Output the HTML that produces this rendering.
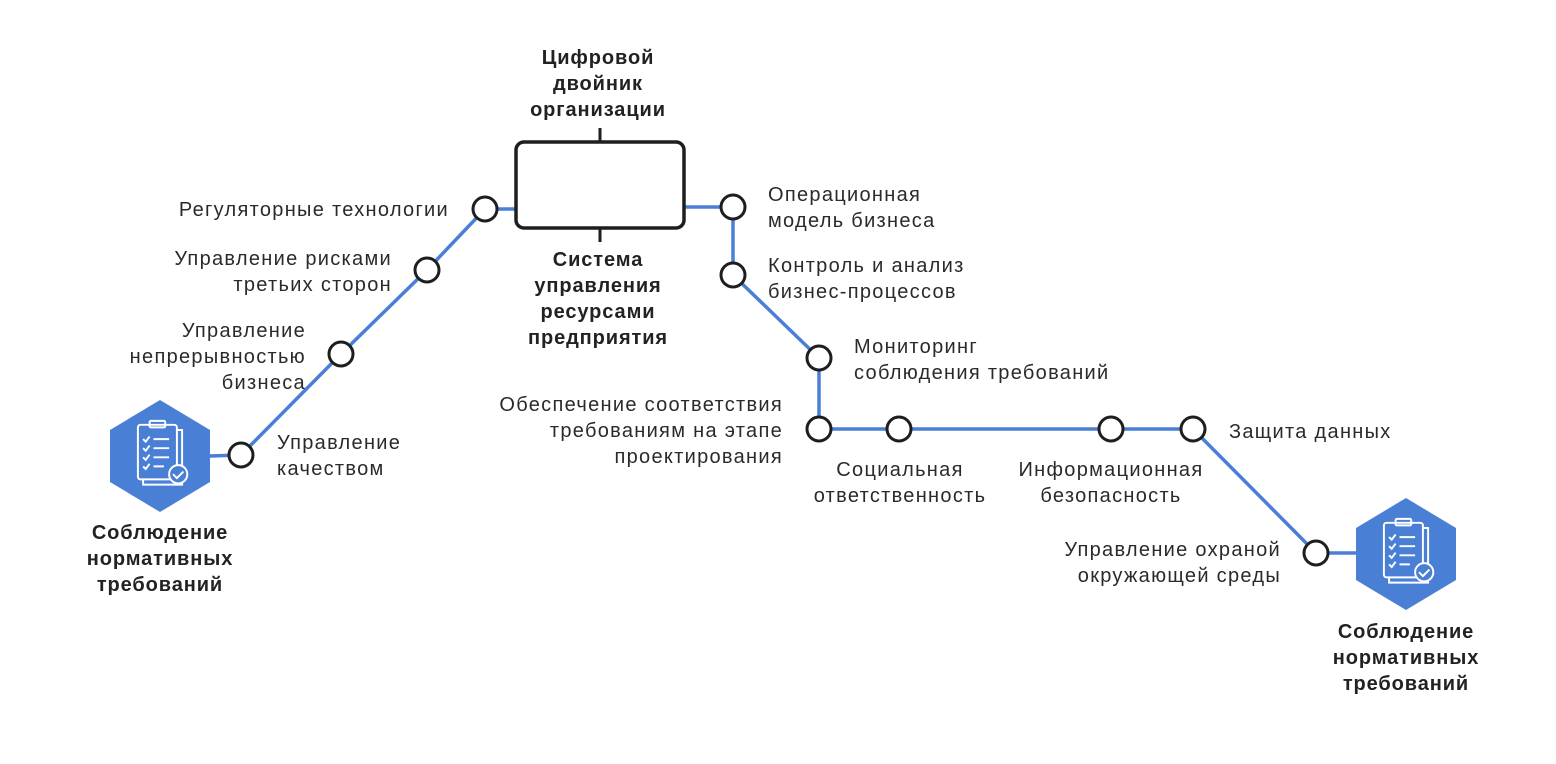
<!DOCTYPE html>
<html><head><meta charset="utf-8"><style>
html,body{margin:0;padding:0;background:#fff;}
svg{display:block}
text{font-family:"Liberation Sans",sans-serif;font-size:20px;letter-spacing:1.3px;fill:#2a2a2a}
.b{font-weight:bold;fill:#222;letter-spacing:0.9px}
</style></head><body>
<svg width="1556" height="764" viewBox="0 0 1556 764" xmlns="http://www.w3.org/2000/svg">
<defs>
<g id="hex">
<polygon points="0,-56 50,-26 50,26 0,56 -50,26 -50,-26" fill="#4a7fd6"/>
<g fill="none" stroke="#fff" stroke-width="1.5" transform="scale(1.3)">
<rect x="-17" y="-24" width="30" height="42" rx="2"/>
<path d="M13,-20 h4 v42 h-30 v-4"/>
<rect x="-8" y="-27" width="12" height="5" rx="1"/>
<path d="M-13,-13 l2,2 l3,-4 M-13,-6 l2,2 l3,-4 M-13,1 l2,2 l3,-4 M-13,8 l2,2 l3,-4"/>
<path d="M-5,-13 h12 M-5,-6 h12 M-5,1 h12 M-5,8 h8"/>
<circle cx="14" cy="14" r="7" fill="#4a7fd6"/>
<path d="M10,14 l3,3 l5,-5"/>
</g>
</g>
</defs>
<g stroke="#4a7fd6" stroke-width="3.5" fill="none" stroke-linejoin="round">
<polyline points="210,456 241,455 341,354 427,270 485,209 515,209"/>
<polyline points="685,207 733,207 733,275 819,358 819,429 1193,429 1316,553 1356,553"/>
</g>
<use href="#hex" x="160" y="456"/>
<use href="#hex" x="1406" y="554"/>
<rect x="516" y="142" width="168" height="86" rx="8" fill="#fff" stroke="#1e1e1e" stroke-width="3.5"/>
<line x1="600" y1="128" x2="600" y2="142" stroke="#1e1e1e" stroke-width="3"/>
<line x1="600" y1="228" x2="600" y2="242" stroke="#1e1e1e" stroke-width="3"/>
<g fill="#fff" stroke="#1e1e1e" stroke-width="3">
<circle cx="485" cy="209" r="12"/><circle cx="427" cy="270" r="12"/>
<circle cx="341" cy="354" r="12"/><circle cx="241" cy="455" r="12"/>
<circle cx="733" cy="207" r="12"/><circle cx="733" cy="275" r="12"/>
<circle cx="819" cy="358" r="12"/><circle cx="819" cy="429" r="12"/>
<circle cx="899" cy="429" r="12"/><circle cx="1111" cy="429" r="12"/>
<circle cx="1193" cy="429" r="12"/><circle cx="1316" cy="553" r="12"/>
</g>
<g text-anchor="middle">
<text class="b" x="598" y="64">Цифровой</text>
<text class="b" x="598" y="90">двойник</text>
<text class="b" x="598" y="116">организации</text>
<text class="b" x="598" y="266">Система</text>
<text class="b" x="598" y="292">управления</text>
<text class="b" x="598" y="318">ресурсами</text>
<text class="b" x="598" y="344">предприятия</text>
<text class="b" x="160" y="539">Соблюдение</text>
<text class="b" x="160" y="565">нормативных</text>
<text class="b" x="160" y="591">требований</text>
<text class="b" x="1406" y="638">Соблюдение</text>
<text class="b" x="1406" y="664">нормативных</text>
<text class="b" x="1406" y="690">требований</text>
<text x="900" y="476">Социальная</text>
<text x="900" y="502">ответственность</text>
<text x="1111" y="476">Информационная</text>
<text x="1111" y="502">безопасность</text>
</g>
<g text-anchor="end">
<text x="449" y="216">Регуляторные технологии</text>
<text x="392" y="265">Управление рисками</text>
<text x="392" y="291">третьих сторон</text>
<text x="306" y="337">Управление</text>
<text x="306" y="363">непрерывностью</text>
<text x="306" y="389">бизнеса</text>
<text x="783" y="411">Обеспечение соответствия</text>
<text x="783" y="437">требованиям на этапе</text>
<text x="783" y="463">проектирования</text>
<text x="1281" y="556">Управление охраной</text>
<text x="1281" y="582">окружающей среды</text>
</g>
<text x="277" y="449">Управление</text>
<text x="277" y="475">качеством</text>
<text x="768" y="201">Операционная</text>
<text x="768" y="227">модель бизнеса</text>
<text x="768" y="272">Контроль и анализ</text>
<text x="768" y="298">бизнес-процессов</text>
<text x="854" y="353">Мониторинг</text>
<text x="854" y="379">соблюдения требований</text>
<text x="1229" y="438">Защита данных</text>
</svg>
</body></html>
